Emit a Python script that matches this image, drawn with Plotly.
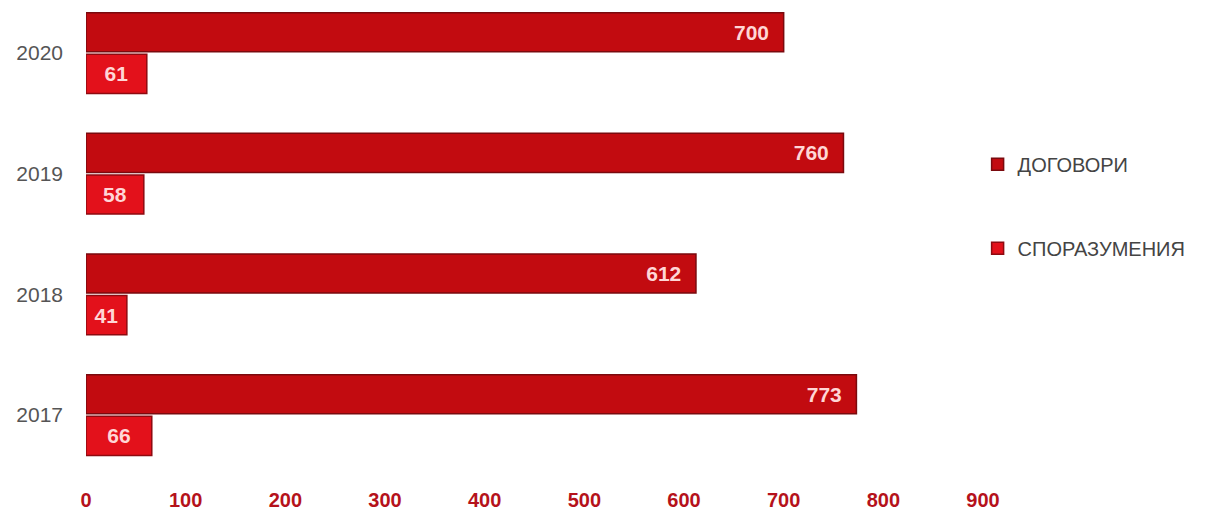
import plotly.graph_objects as go

years = ["2017", "2018", "2019", "2020"]
dogovori = [773, 612, 760, 700]
sporazumenia = [66, 41, 58, 61]

label_font = dict(color="#FFD6D6", size=21, family="Liberation Sans, Arial, sans-serif", weight="bold")

fig = go.Figure()
fig.add_trace(go.Bar(
    y=years, x=sporazumenia, orientation="h", name="СПОРАЗУМЕНИЯ",
    legendgroup="b", legendrank=2,
    marker=dict(color="#E3111B", line=dict(color="#8E0A10", width=1.5)),
    text=sporazumenia, textposition="inside", insidetextanchor="middle",
    textfont=label_font,
))
fig.add_trace(go.Bar(
    y=years, x=dogovori, orientation="h", name="ДОГОВОРИ",
    legendgroup="a", legendrank=1,
    marker=dict(color="#C20B10", line=dict(color="#7A0A0E", width=1.5)),
    texttemplate="%{x}\u00a0\u00a0", textposition="inside", insidetextanchor="end",
    textfont=label_font,
))

fig.update_layout(
    width=1227, height=513,
    margin=dict(l=78, r=252, t=0, b=35),
    plot_bgcolor="white", paper_bgcolor="white",
    barmode="group", bargap=0.31, bargroupgap=0.06,
    font=dict(family="Liberation Sans, Arial, sans-serif"),
    legend=dict(
        x=0.994, y=0.585, xanchor="left", yanchor="middle",
        traceorder="grouped", tracegroupgap=55,
        font=dict(size=20, color="#444444"),
        itemwidth=30,
    ),
    uniformtext=dict(minsize=10, mode="show"),
)
fig.update_xaxes(
    range=[0, 900], dtick=100, showgrid=False, zeroline=False,
    showline=False, ticks="", automargin=False,
    tickfont=dict(size=20, color="#B5121B", family="Liberation Sans, Arial, sans-serif", weight="bold"),
)
fig.update_yaxes(
    range=[-0.588, 3.373], showgrid=False, showline=False, ticks="",
    automargin=False, ticklabelstandoff=22,
    tickfont=dict(size=21, color="#555555"),
)

fig.write_html("out.html")
